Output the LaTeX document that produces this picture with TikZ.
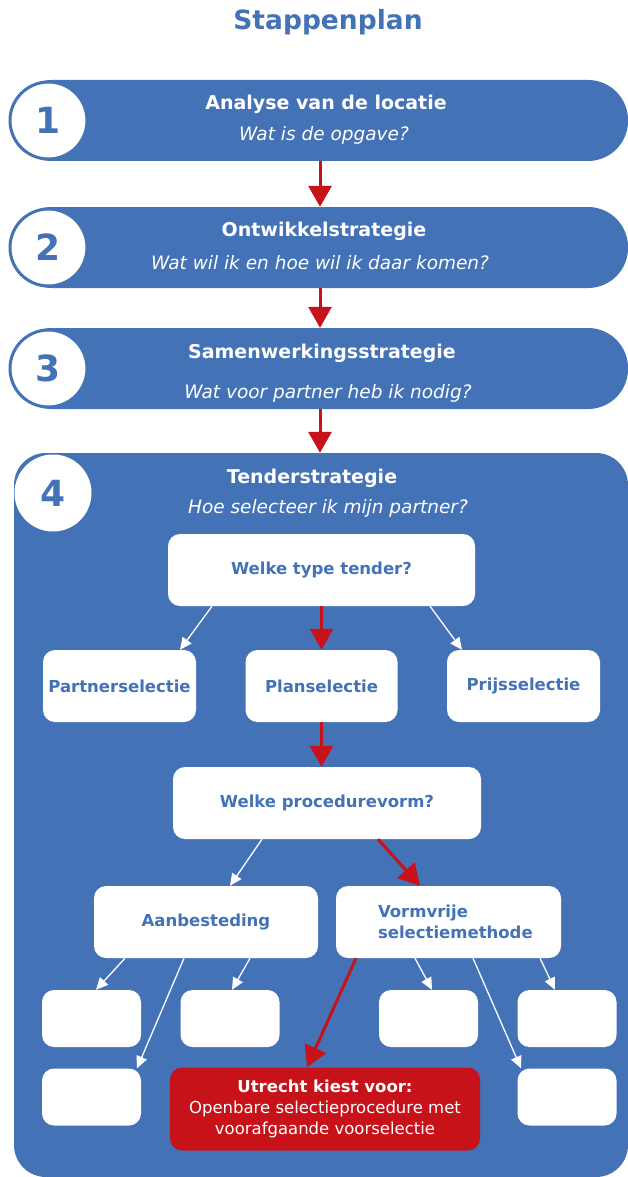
\documentclass[tikz,border=0pt]{standalone}
\usepackage{fontspec}
\setmainfont{DejaVu Sans}
\usetikzlibrary{arrows.meta}
\definecolor{myblue}{RGB}{68,114,183}
\definecolor{myred}{RGB}{200,18,26}
\tikzset{
  bar/.style={fill=myblue, rounded corners=40pt, minimum height=81pt, minimum width=616pt, inner sep=0pt},
  num/.style={circle, fill=white, draw=myblue, line width=3pt, minimum size=77pt, inner sep=0pt, text=myblue, font=\fontsize{36}{36}\selectfont\bfseries},
  ttl/.style={text=white, inner sep=0pt, font=\fontsize{19}{22}\selectfont\bfseries},
  sub/.style={text=white, inner sep=0pt, font=\fontsize{18.5}{22}\selectfont\itshape},
  wbox/.style={fill=white, rounded corners=12pt, text=myblue, inner sep=0pt, font=\fontsize{16.5}{21}\selectfont\bfseries},
  redarr/.style={draw=myred, line width=3pt, -{Triangle[width=23pt,length=21pt]}},
  warr/.style={draw=white, line width=1.3pt, -{Triangle[width=11pt,length=12pt]}},
}
\begin{document}
\begin{tikzpicture}[x=1pt,y=-1pt]
\fill[white] (0,0) rectangle (628,1177);
\useasboundingbox (0,0) rectangle (628,1177);
\node[text=myblue, font=\fontsize{26.5}{30}\selectfont\bfseries] (title) at (328,22) {Stappenplan};
% bars
\node[bar] (b1) at (320,120.5) {};
\node[bar] (b2) at (320,247.5) {};
\node[bar] (b3) at (320,368.5) {};
\node[num] (c1) at (48.5,120.5) {1};
\node[num] (c2) at (48.5,247.5) {2};
\node[num] (c3) at (48.5,368.5) {3};
\node[ttl] (t1) at (326,104) {Analyse van de locatie};
\node[sub] (s1t) at (324,135) {Wat is de opgave?};
\node[ttl] (t2) at (324,231) {Ontwikkelstrategie};
\node[sub] (s2t) at (320,263) {Wat wil ik en hoe wil ik daar komen?};
\node[ttl] (t3) at (322,353) {Samenwerkingsstrategie};
\node[sub] (s3t) at (328,393) {Wat voor partner heb ik nodig?};
% big box
\node[fill=myblue, rounded corners=32pt, minimum width=614pt, minimum height=724pt, inner sep=0pt] (b4) at (321,815) {};
\node[circle, fill=white, minimum size=77pt, inner sep=0pt, text=myblue, font=\fontsize{36}{36}\selectfont\bfseries] (c4) at (53,493) {4};
\node[ttl] (t4) at (312,478) {Tenderstrategie};
\node[sub] (s4t) at (328,508) {Hoe selecteer ik mijn partner?};
\draw[redarr] (b1.south) -- (b2.north);
\draw[redarr] (b2.south) -- (b3.north);
\draw[redarr] (b3.south) -- (b3.south |- b4.north);
% inner boxes
\node[wbox, minimum width=307pt, minimum height=72pt] (wtt) at (321.5,570) {Welke type tender?};
\node[wbox, minimum width=153pt, minimum height=72pt] (partner) at (119.5,686) {Partnerselectie};
\node[wbox, minimum width=152pt, minimum height=72pt] (plan) at (321.5,686) {Planselectie};
\node[wbox, minimum width=153pt, minimum height=72pt] (prijs) at (523.5,686) {Prijsselectie};
\node[wbox, minimum width=308pt, minimum height=72pt] (wpv) at (327,803) {Welke procedurevorm?};
\node[wbox, minimum width=224pt, minimum height=72pt] (aanb) at (206,922) {Aanbesteding};
\node[wbox, minimum width=225pt, minimum height=72pt, align=left, text width=141pt] (vorm) at (448.5,922) {Vormvrije\\selectiemethode};
\node[wbox, minimum width=99pt, minimum height=57pt] (e1) at (91.5,1018.5) {};
\node[wbox, minimum width=99pt, minimum height=57pt] (e2) at (230,1018.5) {};
\node[wbox, minimum width=99pt, minimum height=57pt] (e3) at (428.5,1018.5) {};
\node[wbox, minimum width=99pt, minimum height=57pt] (e4) at (567,1018.5) {};
\node[wbox, minimum width=99pt, minimum height=57pt] (e5) at (91.5,1097) {};
\node[wbox, minimum width=99pt, minimum height=57pt] (e6) at (567,1097) {};
\node[fill=myred, rounded corners=12pt, minimum width=310pt, minimum height=83pt, inner sep=0pt, text=white, align=center, font=\fontsize{16.5}{21}\selectfont] (utr) at (325,1109) {{\bfseries Utrecht kiest voor:}\\Openbare selectieprocedure met\\voorafgaande voorselectie};
% arrows
\draw[warr] ([xshift=-109.5pt]wtt.south) -- ([xshift=60.5pt]partner.north);
\draw[redarr] (wtt.south) -- (plan.north);
\draw[warr] ([xshift=108.5pt]wtt.south) -- ([xshift=-61.5pt]prijs.north);
\draw[redarr] (plan.south) -- ([xshift=-5.5pt]wpv.north);
\draw[warr] ([xshift=-65pt]wpv.south) -- ([xshift=24pt]aanb.north);
\draw[redarr] ([xshift=51pt]wpv.south) -- ([xshift=-28.5pt]vorm.north);
\draw[warr] ([xshift=-81pt]aanb.south) -- ([xshift=4.5pt]e1.north);
\draw[warr] ([xshift=-22pt]aanb.south) -- ([xshift=45.5pt]e5.north);
\draw[warr] ([xshift=44pt]aanb.south) -- ([xshift=2pt]e2.north);
\draw[redarr] ([xshift=-92.5pt]vorm.south) -- ([xshift=-18pt]utr.north);
\draw[warr] ([xshift=-33.5pt]vorm.south) -- ([xshift=3.5pt]e3.north);
\draw[warr] ([xshift=24.5pt]vorm.south) -- ([xshift=-46pt]e6.north);
\draw[warr] ([xshift=91.5pt]vorm.south) -- ([xshift=-12pt]e4.north);
\end{tikzpicture}
\end{document}
